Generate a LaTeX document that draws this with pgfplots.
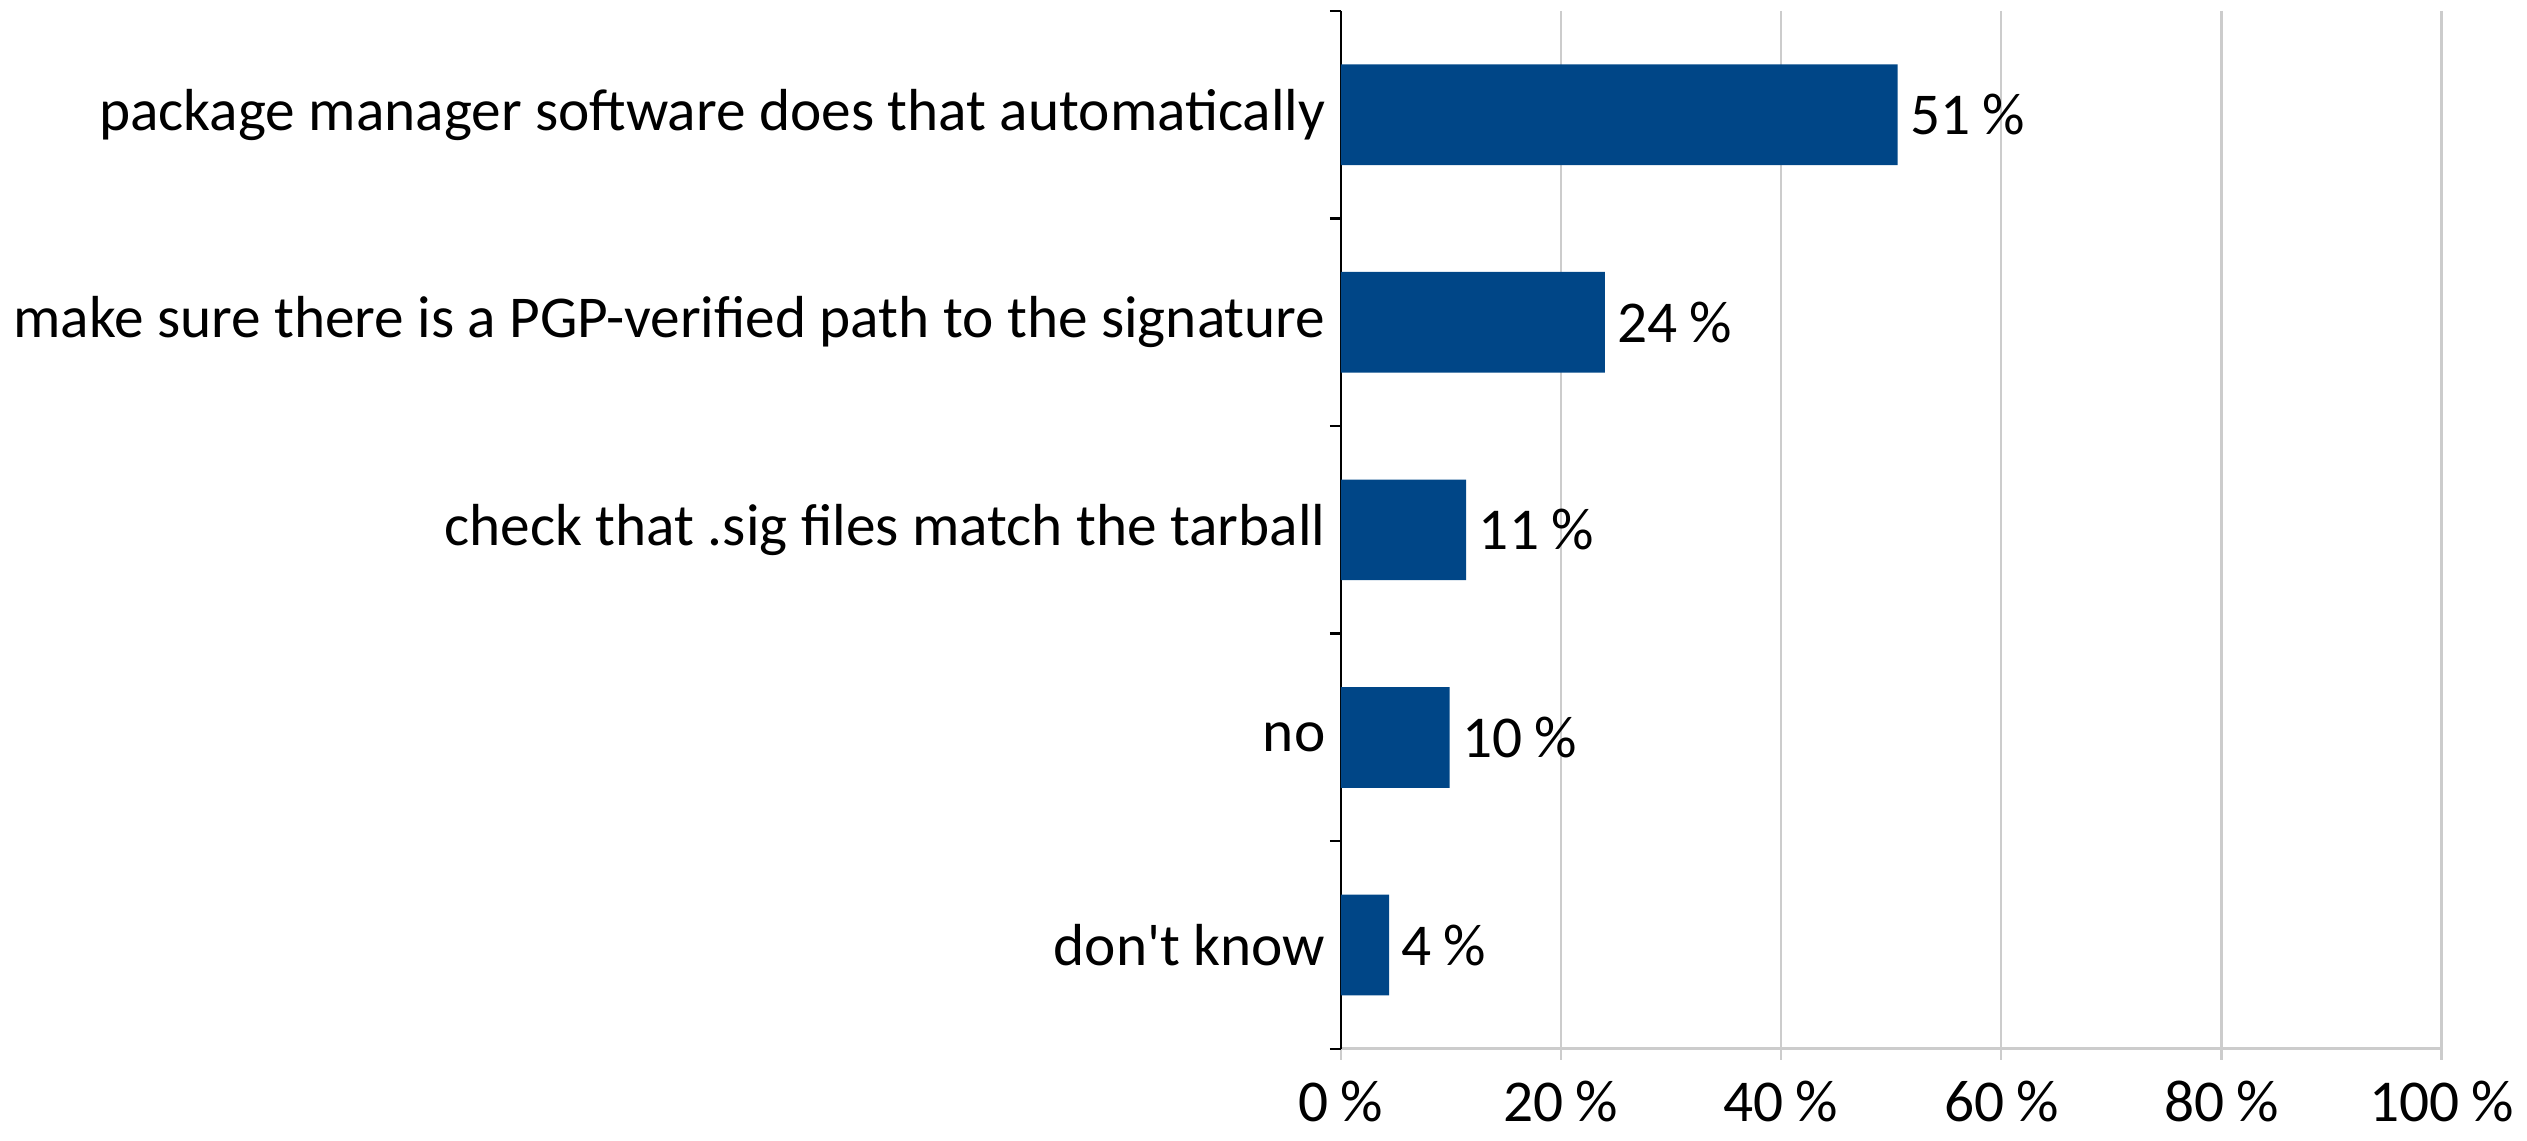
\documentclass[border=0pt]{standalone}
\usepackage{pgfplots}
\pgfplotsset{compat=1.18}
\usepackage{fontspec}
\setmainfont{Carlito}
\definecolor{barblue}{RGB}{0,70,135}
\definecolor{gridgray}{RGB}{204,204,204}
\newcommand{\lblfont}{\fontsize{14.9}{17.8}\selectfont}
\newcommand{\pct}{\hspace{0.2em}\%}
\begin{document}
\begin{tikzpicture}[font=\lblfont]
\begin{axis}[
  xbar,
  scale only axis,
  width=276.5pt, height=260.7pt,
  xmin=0, xmax=100,
  ymin=0.5, ymax=5.5,
  y dir=reverse,
  bar width=0.485,
  axis x line*=bottom,
  axis y line*=left,
  x axis line style={gridgray, line width=0.8pt},
  y axis line style={black, line width=0.6pt},
  xmajorgrids,
  grid style={gridgray, line width=0.6pt},
  xtick={0,20,...,100},
  xticklabel={\pgfmathprintnumber{\tick}\pct},
  /pgf/number format/assume math mode=true,
  xticklabel style={inner ysep=0pt, yshift=-5.25pt},
  ytick={1,2,3,4,5},
  yticklabels={package manager software does that automatically,
    make sure there is a PGP-verified path to the signature,
    check that .sig files match the tarball,
    no,
    don\textquotesingle t know},
  yticklabel style={xshift=2.4pt},
  minor ytick={0.5,1.5,2.5,3.5,4.5,5.5},
  tick align=outside,
  major tick length=2.75pt,
  minor tick length=2.75pt,
  every major y tick/.style={draw=none},
  every minor y tick/.style={black, line width=0.6pt},
  every major x tick/.style={gridgray, line width=0.6pt},
  tick label style={font=\lblfont},
  point meta=explicit symbolic,
  nodes near coords,
  nodes near coords style={font=\lblfont, anchor=west, inner sep=3pt, black},
]
\addplot[fill=barblue, draw=none] coordinates {
  (50.6,1) [51\pct]
  (24.0,2) [24\pct]
  (11.4,3) [11\pct]
  (9.9,4) [10\pct]
  (4.4,5) [4\pct]
};
\end{axis}
\path ([yshift=2.75pt]current axis.north west) -- ([xshift=19pt, yshift=-23pt]current axis.south east);
\end{tikzpicture}
\end{document}
